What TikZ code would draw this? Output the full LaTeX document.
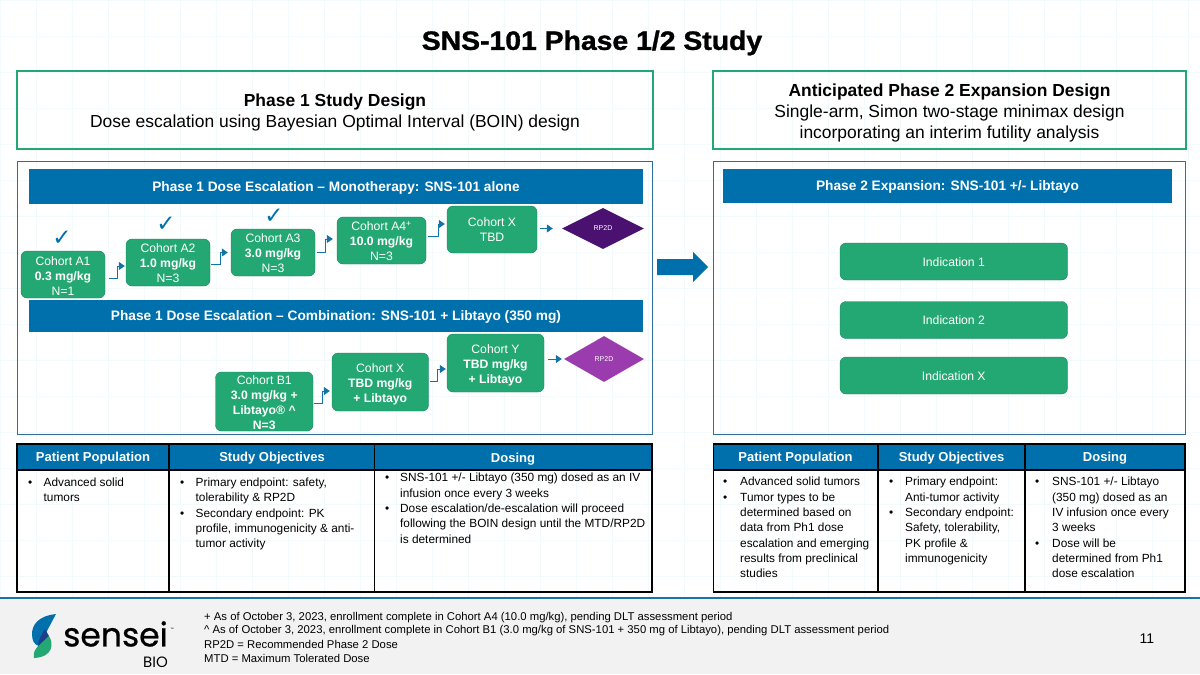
\documentclass[tikz,border=0pt]{standalone}
\usepackage{fontspec}
\setmainfont{Liberation Sans}
\newfontfamily\titlefont[FakeStretch=1.07,FakeBold=1.2]{Liberation Sans}
\newfontfamily\logofont[FakeBold=0.7]{Poppins}
\newfontfamily\biofont{Poppins}
\newfontfamily\checkfont{DejaVu Sans}
\usepackage{xcolor}
\usetikzlibrary{arrows.meta}
\usetikzlibrary{shapes.geometric}
\definecolor{sgreen}{HTML}{24A873}
\definecolor{sgreendark}{HTML}{1C8066}
\definecolor{sblue}{HTML}{0070AD}
\definecolor{sframe}{HTML}{2F6E96}
\definecolor{sgrid}{HTML}{F3FAFC}
\definecolor{sfoot}{HTML}{F2F2F2}
\definecolor{spurple}{HTML}{4A1170}
\definecolor{slilac}{HTML}{9A3BAE}
\definecolor{soverlap}{HTML}{1B3F8F}
\newcommand{\fsz}[2]{\fontsize{#1}{#2}\selectfont}
\newcommand{\bulletcell}[2]{\begin{tabular}{@{}p{#1}@{}l@{}}#2\end{tabular}}
\tikzset{
  nudge/.style={execute at begin node={\rule{0pt}{#1}}},
  cohort/.style={draw=sgreendark,fill=sgreen,rounded corners=6pt,text=white,
    align=center,inner sep=0pt,font=\fsz{12.2}{15}},
  indication/.style={cohort,nudge=10pt,minimum width=227.5pt,minimum height=37pt},
  banner/.style={fill=sblue,text=white,align=center,inner sep=0pt,font=\fsz{13.7}{15}\bfseries,nudge=12.5pt},
  design/.style={draw=sgreen,line width=2.5pt,align=center,inner sep=0pt,font=\fsz{17.45}{21}},
  panel/.style={draw=sframe,line width=1pt},
  rptwo/.style={diamond,aspect=2,inner sep=0pt,text=white,font=\fsz{7}{8}},
  flow/.style={draw=sblue!85!gray,line width=0.8pt,-{Triangle[length=6pt,width=8pt]}},
  tick/.style={text=sblue,inner sep=0pt,font=\checkfont\fsz{23}{23}},
  headcell/.style={text=white,inner sep=0pt,font=\fsz{13}{15}\bfseries,nudge=13.5pt},
  cellbody/.style={anchor=north west,inner sep=0pt,font=\fsz{11.85}{15.3}},
  footnote/.style={anchor=west,inner sep=0pt,font=\fsz{11.3}{13}}
}
\begin{document}
\begin{tikzpicture}[x=1pt,y=-1pt]
    \useasboundingbox (0,0) rectangle (1200,675);
    \fill[white] (0,0) rectangle (1200,675);
    % faint background grid
    \foreach \gx in {0,36,...,1200}
      \draw[sgrid,line width=0.6pt] (\gx,0) -- (\gx,598);
    \foreach \gy in {0,36,...,598}
      \draw[sgrid,line width=0.6pt] (0,\gy) -- (1200,\gy);
    \node[inner sep=0pt,font=\titlefont\fsz{26.5}{30}\bfseries] (title) at (592,43) {SNS-101 Phase 1/2 Study};
    %
    \node[design,nudge=37.7pt,minimum width=636pt,minimum height=78pt] (designone) at (335,110)
      {\textbf{Phase 1 Study Design}\\Dose escalation using Bayesian Optimal Interval (BOIN) design};
    \node[design,nudge=60.7pt,minimum width=473pt,minimum height=78pt] (designtwo) at (949.5,110)
      {\textbf{Anticipated Phase 2 Expansion Design}\\Single-arm, Simon two-stage minimax design\\incorporating an interim futility analysis};
    \draw[panel] (17,161) rectangle (652,434);
    \draw[panel] (713.5,161) rectangle (1185.5,434);
    %
    \node[banner,minimum width=614pt,minimum height=35pt] (monobar) at (336,186.5)
      {Phase 1 Dose Escalation -- Monotherapy: SNS-101 alone};
    \node[banner,minimum width=614pt,minimum height=32pt] (combobar) at (336,316)
      {Phase 1 Dose Escalation -- Combination: SNS-101 + Libtayo (350 mg)};
    \node[banner,minimum width=449pt,minimum height=34pt] (expbar) at (947.5,186)
      {Phase 2 Expansion: SNS-101 +/- Libtayo};
    % monotherapy cohorts
    \node[cohort,nudge=41pt,minimum width=84pt,minimum height=47pt] (a1) at (63,274.5)
      {Cohort A1\\\textbf{0.3 mg/kg}\\N=1};
    \node[cohort,nudge=41pt,minimum width=84pt,minimum height=47pt] (a2) at (168,262.5)
      {Cohort A2\\\textbf{1.0 mg/kg}\\N=3};
    \node[cohort,nudge=41pt,minimum width=84pt,minimum height=47pt] (a3) at (273,252.5)
      {Cohort A3\\\textbf{3.0 mg/kg}\\N=3};
    \node[cohort,nudge=41pt,minimum width=89pt,minimum height=47pt] (a4) at (381.5,240.5)
      {Cohort A4\textsuperscript{+}\\\textbf{10.0 mg/kg}\\N=3};
    \node[cohort,minimum width=90pt,minimum height=47pt] (ax) at (492,229.5)
      {Cohort X\\TBD};
    \node[rptwo,fill=spurple,minimum width=82pt,minimum height=41pt] (rpa) at (603,228.5) {RP2D};
    \node[tick] (ticka) at (62,238) {✓};
    \node[tick] (tickb) at (166,224) {✓};
    \node[tick] (tickc) at (274,216) {✓};
    \draw[flow,shorten <=3.5pt,shorten >=1pt] ([yshift=-3.5pt]a1.east) -- ++(12,0) |- ([yshift=-3.5pt]a2.west);
    \draw[flow,shorten <=1pt,shorten >=3pt] ([yshift=-1.5pt]a2.east) -- ++(10,0) |- (a3.west);
    \draw[flow,shorten <=1.5pt,shorten >=4pt] (a3.east) -- ++(10,0) |- ([yshift=1.5pt]a4.west);
    \draw[flow,shorten <=2pt,shorten >=2pt] ([yshift=4.5pt]a4.east) -- ++(11.7,0) |- ([yshift=5.5pt]ax.west);
    \draw[flow,shorten <=3pt,shorten >=9pt] (ax.east |- rpa.west) -- (rpa.west);
    % combination cohorts
    \node[cohort,nudge=57pt,minimum width=97.5pt,minimum height=59pt] (b1) at (264.25,401.5)
      {Cohort B1\\\textbf{3.0 mg/kg +}\\\textbf{Libtayo® \textasciicircum}\\\textbf{N=3}};
    \node[cohort,nudge=43pt,minimum width=96.5pt,minimum height=58pt] (bx) at (380.25,382)
      {Cohort X\\\textbf{TBD mg/kg}\\\textbf{+ Libtayo}};
    \node[cohort,nudge=43pt,minimum width=97pt,minimum height=58pt] (by) at (495.5,363)
      {Cohort Y\\\textbf{TBD mg/kg}\\\textbf{+ Libtayo}};
    \node[rptwo,fill=slilac,minimum width=80pt,minimum height=46pt] (rpb) at (604,359) {RP2D};
    \draw[flow,shorten <=0.5pt,shorten >=2pt] ([yshift=-2pt]b1.east) -- ++(9,0) |- ([yshift=-9pt]bx.west);
    \draw[flow,shorten <=1pt,shorten >=1pt] ([yshift=1pt]bx.east) -- ++(8.5,0) |- ([yshift=-6pt]by.west);
    \draw[flow,shorten <=4pt,shorten >=2pt] (by.east |- rpb.west) -- (rpb.west);
    % big arrow between the panels
    \fill[sblue] (657,259) -- (693,259) -- (693,252) -- (708,267) -- (693,282) -- (693,275) -- (657,275) -- cycle;
    % indications
    \node[indication] (inda) at (953.75,261.5) {Indication 1};
    \node[indication] (indb) at (953.75,320) {Indication 2};
    \node[indication] (indx) at (953.75,375.5) {Indication X};
    % left table
    \fill[sblue] (17,444) rectangle (652,470);
    \draw[black,line width=1.2pt] (17,444) rectangle (652,592) (17,470) -- (652,470)
      (169,444) -- (169,592) (374.5,444) -- (374.5,592);
    \node[headcell] (hpa) at (93,456.5) {Patient Population};
    \node[headcell] (hsa) at (272,456.5) {Study Objectives};
    \node[headcell] (hda) at (513,457) {Dosing};
    \node[cellbody] (cpa) at (28,475.5) {\bulletcell{15.5pt}{\textbullet & Advanced solid\\ & tumors}};
    \node[cellbody] (csa) at (180,475.5) {\bulletcell{15.5pt}{\textbullet & Primary endpoint: safety,\\ & tolerability \& RP2D\\
      \textbullet & Secondary endpoint: PK\\ & profile, immunogenicity \& anti-\\ & tumor activity}};
    \node[cellbody] (cda) at (385,471) {\bulletcell{15pt}{\textbullet & SNS-101 +/- Libtayo (350 mg) dosed as an IV\\ & infusion once every 3 weeks\\
      \textbullet & Dose escalation/de-escalation will proceed\\ & following the BOIN design until the MTD/RP2D\\ & is determined}};
    % right table
    \fill[sblue] (713.5,444) rectangle (1185,470);
    \draw[black,line width=1.2pt] (713.5,444) rectangle (1185,592) (713.5,470) -- (1185,470)
      (878,444) -- (878,592) (1025,444) -- (1025,592);
    \node[headcell] (hpb) at (795.5,456.5) {Patient Population};
    \node[headcell] (hsb) at (951.5,456.5) {Study Objectives};
    \node[headcell] (hdb) at (1105,456.5) {Dosing};
    \node[cellbody] (cpb) at (723,475) {\bulletcell{17pt}{\textbullet & Advanced solid tumors\\
      \textbullet & Tumor types to be\\ & determined based on\\ & data from Ph1 dose\\ & escalation and emerging\\ & results from preclinical\\ & studies}};
    \node[cellbody] (csb) at (889,475) {\bulletcell{16pt}{\textbullet & Primary endpoint:\\ & Anti-tumor activity\\
      \textbullet & Secondary endpoint:\\ & Safety, tolerability,\\ & PK profile \&\\ & immunogenicity}};
    \node[cellbody] (cdb) at (1035,475) {\bulletcell{17pt}{\textbullet & SNS-101 +/- Libtayo\\ & (350 mg) dosed as an\\ & IV infusion once every\\ & 3 weeks\\
      \textbullet & Dose will be\\ & determined from Ph1\\ & dose escalation}};
    % footer
    \fill[sfoot] (0,599) rectangle (1200,674);
    \draw[sblue!80!gray,line width=1.2pt] (0,598) -- (1200,598);
    \fill[sblue] (56,614) .. controls (38,616) and (32,625) .. (32,634)
      .. controls (32,640) and (34,645) .. (39,646) -- cycle;
    \fill[sgreen] (49,636) .. controls (54,644) and (53,657) .. (34,658)
      .. controls (33,652) and (35,650) .. (38,646) -- cycle;
    \fill[soverlap] (45,629) -- (49,636) -- (38,646) -- (39,646) .. controls (37,645) and (39,638) .. (45,629) -- cycle;
    \node[inner sep=0pt,font=\logofont\fsz{33}{36}] (logoname) at (115.5,634) {sensei};
    \node[inner sep=0pt,anchor=east,font=\biofont\fsz{15}{16}] (logobio) at (168,662) {BIO};
    \node[inner sep=0pt,font=\fsz{3.5}{4}] (logotm) at (172,629) {™};
    \node[footnote] (noteone) at (204,617.5) {+ As of October 3, 2023, enrollment complete in Cohort A4 (10.0 mg/kg), pending DLT assessment period};
    \node[footnote] (notetwo) at (204,631) {\textasciicircum\ As of October 3, 2023, enrollment complete in Cohort B1 (3.0 mg/kg of SNS-101 + 350 mg of Libtayo), pending DLT assessment period};
    \node[footnote] (notethree) at (204,644.5) {RP2D = Recommended Phase 2 Dose};
    \node[footnote] (notefour) at (204,658) {MTD = Maximum Tolerated Dose};
    \node[inner sep=0pt,font=\fsz{14}{16}] (pagenum) at (1147,639) {11};
\end{tikzpicture}
\end{document}
